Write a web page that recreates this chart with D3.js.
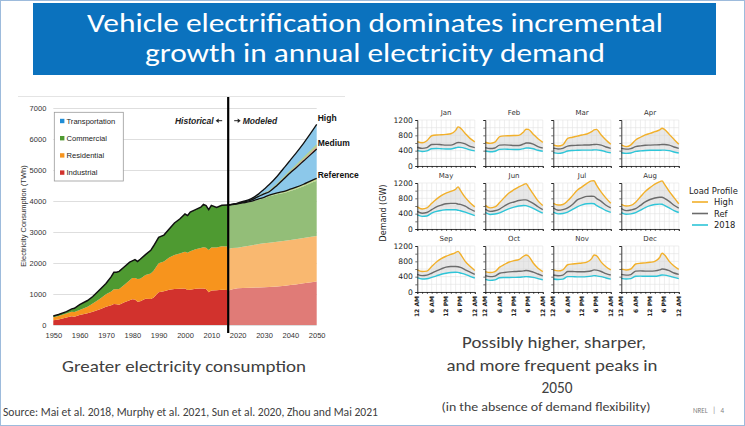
<!DOCTYPE html>
<html><head><meta charset="utf-8">
<script src="https://cdn.jsdelivr.net/npm/d3@7"></script>
<style>body{margin:0;background:#fff}svg{display:block}</style>
</head><body><svg id="c" width="745" height="426"></svg>
<script>
// ---------- text ----------
const titleLines = ["Vehicle electrification dominates incremental", "growth in annual electricity demand"];
const leftCaption = "Greater electricity consumption";
const rightCaption = ["Possibly higher, sharper,", "and more frequent peaks in", "2050"];
const rightNote = "(in the absence of demand flexibility)";
const sourceText = "Source: Mai et al. 2018, Murphy et al. 2021, Sun et al. 2020, Zhou and Mai 2021";
const footerText = "NREL   |   4";

// ---------- left chart data (TWh) ----------
const yTicks = [0,1000,2000,3000,4000,5000,6000,7000];
const xTicks = [1950,1960,1970,1980,1990,2000,2010,2020,2030,2040,2050];
const sectorNames = ["Transportation","Commercial","Residential","Industrial"];
const sectorColors = ["#1F8DD6","#4E9A31","#F7941D","#D2322D"];
const histYears = [1950,1952,1955,1957,1958,1960,1963,1965,1968,1970,1972,1973,1974,1975,1977,1979,1980,1981,1982,1983,1985,1987,1988,1990,1992,1994,1996,1998,2000,2001,2002,2004,2006,2007,2008,2009,2010,2012,2014,2016];
const histIndustrial = [150,180,240,280,270,320,380,430,520,590,640,680,670,650,730,800,830,820,750,770,850,840,880,1060,1090,1140,1160,1170,1180,1130,1140,1170,1180,1180,1160,1060,1110,1120,1140,1130];
const histResidential = [100,110,130,145,150,160,210,260,340,400,440,470,480,515,570,640,685,700,730,720,760,820,860,930,960,1040,1100,1140,1185,1200,1240,1270,1300,1325,1330,1360,1390,1380,1400,1405];
const histCommercial = [40,50,60,95,120,180,200,230,310,350,480,550,550,565,580,590,555,590,570,630,660,750,800,840,850,920,1030,1110,1215,1200,1260,1280,1320,1385,1360,1300,1360,1290,1320,1335];
const modYears = [2016,2018,2020,2022,2025,2028,2030,2032,2035,2038,2040,2042,2045,2048,2050];
const modIndustrial = [1100,1150,1185,1195,1205,1210,1215,1225,1245,1270,1290,1310,1345,1380,1400];
const modResidential = [1340,1330,1310,1330,1360,1400,1420,1430,1440,1445,1450,1455,1460,1465,1470];
const modCommercial = [1430,1400,1405,1400,1405,1430,1450,1495,1530,1555,1585,1615,1670,1745,1785];
const modRefTransport = [0,5,10,15,20,30,35,40,45,50,55,60,65,70,75];
const mediumTotal = [3870,3890,3925,3965,4030,4150,4230,4300,4510,4750,4910,5060,5290,5520,5680];
const highTotal = [3870,3900,3935,3985,4070,4230,4380,4530,4800,5110,5320,5530,5860,6220,6470];
const highExtraResidential = [0,0,0,5,10,15,20,25,30,40,45,50,60,70,75];
const highExtraCommercial = [0,0,0,5,10,15,20,25,30,40,45,50,60,70,75];
const scenarioLabels = ["High","Medium","Reference"];
const splitYear = 2016.4;

// ---------- right chart data (GW) ----------
const months = ["Jan","Feb","Mar","Apr","May","Jun","Jul","Aug","Sep","Oct","Nov","Dec"];
const hours = [0,2,4,6,8,10,12,14,16,17,18,20,22,24];
const hourTicks = [0,6,12,18,24];
const hourTickLabels = ["12 AM","6 AM","12 PM","6 PM","12 AM"];
const demandTicks = [0,400,800,1200];
const profileNames = ["High","Ref","2018"];
const profileColors = ["#F2B02A","#6B6B6B","#2EC5D8"];
const highLoad = [
 [635,605,660,790,810,815,825,840,930,1020,990,850,720,630],
 [620,590,620,765,785,790,795,800,890,960,955,830,710,615],
 [550,520,550,720,750,780,810,835,895,940,955,810,680,565],
 [550,505,550,680,750,810,850,895,940,985,955,825,695,565],
 [577,522,550,669,779,870,934,980,1035,1100,1008,824,687,577],
 [615,550,575,690,825,945,1025,1100,1160,1185,1100,915,735,615],
 [670,625,640,735,870,1010,1100,1190,1255,1260,1150,960,805,670],
 [645,600,615,700,840,980,1080,1170,1230,1255,1170,980,820,660],
 [578,533,545,667,782,871,933,980,1030,1060,990,800,670,560],
 [533,507,530,649,720,782,818,845,933,965,940,756,622,533],
 [578,551,580,711,730,745,756,780,870,965,950,780,660,578],
 [595,575,600,730,750,760,775,800,900,1010,970,800,680,590]];
const refLoad = [
 [490,460,480,560,565,555,545,545,590,615,610,575,510,480],
 [480,455,470,545,550,545,535,535,575,600,600,570,505,470],
 [465,445,460,520,535,540,545,548,555,560,565,545,495,460],
 [460,440,455,505,525,540,545,550,555,560,560,545,495,460],
 [458,412,430,504,577,623,660,669,669,650,641,595,522,458],
 [520,460,475,520,600,670,705,745,760,760,735,670,580,505],
 [550,490,505,550,640,760,810,850,855,850,800,720,620,550],
 [535,480,495,530,615,710,770,810,830,830,800,720,620,545],
 [462,427,440,489,550,604,649,665,667,660,640,580,520,460],
 [427,400,415,489,510,525,533,540,550,560,555,520,470,420],
 [444,425,440,533,535,530,530,535,555,578,570,535,480,444],
 [460,440,455,545,550,545,545,550,575,600,595,555,495,460]];
const load2018 = [
 [400,380,395,450,455,450,445,445,475,490,485,460,420,395],
 [390,370,385,435,440,435,430,430,455,470,470,450,410,385],
 [350,330,345,390,405,410,415,415,415,420,420,405,370,345],
 [345,330,340,380,395,405,410,410,410,415,415,400,365,340],
 [366,330,340,412,458,485,504,504,504,490,476,440,394,348],
 [430,380,390,420,480,530,570,600,615,610,590,540,470,415],
 [440,395,405,440,510,580,630,660,665,660,615,550,480,435],
 [430,385,395,425,490,560,610,640,650,645,615,550,480,430],
 [373,338,345,380,420,462,490,510,516,512,495,460,410,365],
 [329,302,315,373,378,380,382,385,395,400,398,380,350,320],
 [338,325,335,400,400,395,395,400,415,427,420,400,365,335],
 [355,340,350,410,415,410,410,410,430,445,440,415,380,350]];

// ---------- drawing ----------
const svg = d3.select("#c");
const calibri = "Carlito, 'Liberation Sans Narrow', 'Open Sans', sans-serif";
const arial = "'Liberation Sans', Arial, sans-serif";
const dv = "'DejaVu Sans', sans-serif";

svg.append("rect").attr("x",0.5).attr("y",0.5).attr("width",744).attr("height",425)
  .attr("fill","#fff").attr("stroke","#9dbbdc");

// Title box
svg.append("rect").attr("x",33).attr("y",3).attr("width",683).attr("height",72).attr("fill","#0B72BE");
const titleW = [576, 460];
titleLines.forEach((t,i)=>{
  svg.append("text").attr("x",375).attr("y",32+i*30).attr("text-anchor","middle")
    .attr("font-family",calibri).attr("font-size",27).attr("fill","#fff")
    .attr("textLength",titleW[i]).attr("lengthAdjust","spacingAndGlyphs").text(t);
});

// ===== Left chart =====
const xL = d3.scaleLinear().domain([1950,2050]).range([53.3,316.7]);
const yL = d3.scaleLinear().domain([0,7000]).range([325,108]);
const gL = svg.append("g");
gL.append("line").attr("x1",18).attr("x2",345).attr("y1",96.5).attr("y2",96.5).attr("stroke","#e4e4e4");

gL.append("g").attr("transform",`translate(${xL(1950)},0)`)
  .call(d3.axisLeft(yL).tickValues(yTicks).tickSize(-(xL(2050)-xL(1950))).tickPadding(7).tickFormat(d3.format("d")))
  .call(g=>{g.select(".domain").remove();
    g.selectAll("line").attr("stroke","#dedede");
    g.selectAll("text").attr("font-family",arial).attr("font-size",7.5).attr("fill","#333");});
gL.append("g").attr("transform",`translate(0,${yL(0)})`)
  .call(d3.axisBottom(xL).tickValues(xTicks).tickSize(0).tickPadding(8).tickFormat(d3.format("d")))
  .call(g=>{g.select(".domain").remove();
    g.selectAll("text").attr("font-family",arial).attr("font-size",7.5).attr("fill","#333");});

// modeled stack
const modRows = modYears.map((yr,i)=>({year:yr, ind:modIndustrial[i], res:modResidential[i], com:modCommercial[i], rt:modRefTransport[i]}));
const stM = d3.stack().keys(["ind","res","com","rt"])(modRows);
const areaM = d3.area().x(d=>xL(d.data.year)).y0(d=>yL(d[0])).y1(d=>yL(d[1]));
// transportation (blue) from commercial top to High
const comTop = modRows.map(r=>r.ind+r.res+r.com);
const refTot = modRows.map(r=>r.ind+r.res+r.com+r.rt);
gL.append("path").datum(modYears.map((yr,i)=>({year:yr,lo:comTop[i],hi:highTotal[i]})))
  .attr("d",d3.area().x(d=>xL(d.year)).y0(d=>yL(d.lo)).y1(d=>yL(d.hi))).attr("fill","#8CC8EA");
const modCols = ["#E07B77","#F9B870","#93BE78","#C9DB8E"];
stM.forEach((s,i)=>gL.append("path").datum(s).attr("d",areaM).attr("fill",modCols[i]));
// High increments above Medium
const bandA = modYears.map((yr,i)=>({year:yr,lo:mediumTotal[i],hi:mediumTotal[i]+highExtraResidential[i]}));
const bandB = modYears.map((yr,i)=>({year:yr,lo:mediumTotal[i]+highExtraResidential[i],hi:mediumTotal[i]+highExtraResidential[i]+highExtraCommercial[i]}));
const bandArea = d3.area().x(d=>xL(d.year)).y0(d=>yL(d.lo)).y1(d=>yL(d.hi));
gL.append("path").datum(bandA).attr("d",bandArea).attr("fill","#F4A58E");
gL.append("path").datum(bandB).attr("d",bandArea).attr("fill","#B9D38A");

// historical stack
const histRows = histYears.map((yr,i)=>({year:yr, ind:histIndustrial[i], res:histResidential[i], com:histCommercial[i]}));
const stH = d3.stack().keys(["ind","res","com"])(histRows);
const histCols = ["#D2322D","#F7941D","#4E9A31"];
stH.forEach((s,i)=>gL.append("path").datum(s).attr("d",areaM).attr("fill",histCols[i]));
// total lines
const lineL = d3.line().x(d=>xL(d.year)).y(d=>yL(d.v));
gL.append("path").datum(histRows.map(r=>({year:r.year,v:r.ind+r.res+r.com})))
  .attr("d",lineL).attr("fill","none").attr("stroke","#111").attr("stroke-width",1.5);
[highTotal, mediumTotal, refTot].forEach(arr=>{
  gL.append("path").datum(modYears.map((yr,i)=>({year:yr,v:arr[i]})))
    .attr("d",d3.line().x(d=>xL(d.year)).y(d=>yL(d.v)).curve(d3.curveMonotoneX))
    .attr("fill","none").attr("stroke","#111").attr("stroke-width",1.3);
});
// split line
gL.append("line").attr("x1",xL(splitYear)).attr("x2",xL(splitYear)).attr("y1",97).attr("y2",333)
  .attr("stroke","#000").attr("stroke-width",2.2);
const sx = xL(splitYear);
gL.append("text").attr("x",sx-14.5).attr("y",123.5).attr("text-anchor","end").attr("font-family",arial)
  .attr("font-size",8.5).attr("font-weight","bold").attr("font-style","italic").attr("fill","#222").text("Historical");
gL.append("text").attr("x",sx+14.5).attr("y",123.5).attr("font-family",arial)
  .attr("font-size",8.5).attr("font-weight","bold").attr("font-style","italic").attr("fill","#222").text("Modeled");
gL.append("path").attr("d",`M${sx-6},120.7H${sx-10}`).attr("stroke","#222").attr("stroke-width",1);
gL.append("path").attr("d",`M${sx-12.5},120.7l3,-2.2v4.4z`).attr("fill","#222");
gL.append("path").attr("d",`M${sx+6},120.7H${sx+10}`).attr("stroke","#222").attr("stroke-width",1);
gL.append("path").attr("d",`M${sx+12.5},120.7l-3,-2.2v4.4z`).attr("fill","#222");
// scenario labels
const scenEnd = [highTotal[highTotal.length-1], mediumTotal[mediumTotal.length-1], refTot[refTot.length-1]];
const scenDy = [-3, -3, -0.5];
scenarioLabels.forEach((t,i)=>{
  gL.append("text").attr("x",xL(2050)+1).attr("y",yL(scenEnd[i])+scenDy[i]).attr("font-family",arial)
    .attr("font-size",8.5).attr("font-weight","bold").attr("fill","#111").text(t);
});
// y title
gL.append("text").attr("transform","translate(25.5,216) rotate(-90)").attr("text-anchor","middle")
  .attr("font-family",arial).attr("font-size",7.5).attr("fill","#333").text("Electricity Consumption (TWh)");
// legend
const lg = gL.append("g");
lg.append("rect").attr("x",54.3).attr("y",112.3).attr("width",69).attr("height",68.7).attr("fill","#fff").attr("stroke","#9a9a9a").attr("stroke-width",0.8);
sectorNames.forEach((n,i)=>{
  const yy = 121 + i*17.2;
  lg.append("rect").attr("x",60).attr("y",yy-2.2).attr("width",4.4).attr("height",4.4).attr("fill",sectorColors[i]);
  lg.append("text").attr("x",66.5).attr("y",yy+2.8).attr("font-family",arial).attr("font-size",7.6).attr("fill","#222").text(n);
});

// ===== Right small multiples =====
const colX0 = 417.3, colStep = 68, pw = 57.5, rowY0 = 120, rowStep = 63, ph = 46;
const gR = svg.append("g").attr("font-family",dv);
months.forEach((m,i)=>{
  const c = i%4, r = Math.floor(i/4);
  const x0 = colX0 + c*colStep, yTop = rowY0 + r*rowStep;
  const x = d3.scaleLinear().domain([0,24]).range([x0, x0+pw]);
  const y = d3.scaleLinear().domain([0,1200]).range([yTop+ph, yTop]);
  const g = gR.append("g");
  // grid
  g.selectAll(".gh").data(d3.range(0,1201,200)).join("line")
    .attr("x1",x(0)).attr("x2",x(24)).attr("y1",d=>y(d)).attr("y2",d=>y(d)).attr("stroke","#e3e3e3").attr("stroke-width",0.6);
  g.selectAll(".gv").data(d3.range(0,25,2)).join("line")
    .attr("x1",d=>x(d)).attr("x2",d=>x(d)).attr("y1",y(0)).attr("y2",y(1200)).attr("stroke","#e3e3e3").attr("stroke-width",0.6);
  const pts = hours.map((h,k)=>({h, hi:highLoad[i][k], rf:refLoad[i][k], b:load2018[i][k]}));
  g.append("path").datum(pts).attr("d",d3.area().x(d=>x(d.h)).y0(d=>y(d.b)).y1(d=>y(d.hi)).curve(d3.curveMonotoneX))
    .attr("fill","#d6d6d6").attr("opacity",0.55);
  ["hi","rf","b"].forEach((k,j)=>{
    g.append("path").datum(pts).attr("d",d3.line().x(d=>x(d.h)).y(d=>y(d[k])).curve(d3.curveMonotoneX))
      .attr("fill","none").attr("stroke",profileColors[j]).attr("stroke-width",1.4);
  });
  // axes
  const ax = g.append("g").attr("transform",`translate(0,${y(0)})`)
    .call(d3.axisBottom(x).tickValues(d3.range(0,25,2)).tickSize(2).tickFormat(""));
  const ay = g.append("g").attr("transform",`translate(${x(0)},0)`)
    .call(d3.axisLeft(y).tickValues(d3.range(0,1201,200)).tickSize(2).tickFormat(""));
  [ax,ay].forEach(a=>{a.select(".domain").attr("stroke","#111").attr("stroke-width",0.8);
    a.selectAll("line").attr("stroke","#111").attr("stroke-width",0.6);});
  if (c===0) {
    g.selectAll(".yl").data(demandTicks).join("text").attr("x",x(0)-4.5).attr("y",d=>y(d)+2.7)
      .attr("text-anchor","end").attr("font-size",7.6).attr("fill","#222").text(d=>d);
  }
  if (r===2) {
    g.selectAll(".xl").data(hourTicks).join("text")
      .attr("transform",(d,k)=>`translate(${x(d)+2},${y(0)+4}) rotate(-90)`)
      .attr("text-anchor","end").attr("font-size",6).attr("font-weight","bold").attr("fill","#222")
      .text((d,k)=>hourTickLabels[k]);
  }
  g.append("text").attr("x",(x(0)+x(24))/2).attr("y",yTop-5.5).attr("text-anchor","middle")
    .attr("font-size",7).attr("fill","#333").text(m);
});
gR.append("text").attr("transform","translate(386,213) rotate(-90)").attr("text-anchor","middle")
  .attr("font-size",8).attr("fill","#222").text("Demand (GW)");
// legend
gR.append("text").attr("x",689).attr("y",194).attr("font-size",8.4).attr("fill","#222").text("Load Profile");
profileNames.forEach((n,i)=>{
  const yy = 202 + i*11.5;
  gR.append("line").attr("x1",692).attr("x2",708).attr("y1",yy).attr("y2",yy).attr("stroke",profileColors[i]).attr("stroke-width",1.6);
  gR.append("text").attr("x",714).attr("y",yy+3).attr("font-size",8.4).attr("fill","#222").text(n);
});

// ===== Captions =====
svg.append("text").attr("x",184).attr("y",372).attr("text-anchor","middle").attr("font-family",calibri)
  .attr("font-size",17).attr("fill","#404040").attr("textLength",244).attr("lengthAdjust","spacingAndGlyphs").text(leftCaption);
const rcW = [184, 211, 31];
const rcX = [554, 552, 557];
rightCaption.forEach((t,i)=>{
  svg.append("text").attr("x",rcX[i]).attr("y",348+i*22.5).attr("text-anchor","middle").attr("font-family",calibri)
    .attr("font-size",17).attr("fill","#404040").attr("textLength",rcW[i]).attr("lengthAdjust","spacingAndGlyphs").text(t);
});
svg.append("text").attr("x",546).attr("y",411).attr("text-anchor","middle").attr("font-family",calibri)
  .attr("font-size",12.5).attr("fill","#404040").attr("textLength",209).attr("lengthAdjust","spacingAndGlyphs").text(rightNote);
svg.append("text").attr("x",3).attr("y",416).attr("font-family",calibri)
  .attr("font-size",11.5).attr("fill","#404040").attr("textLength",375).attr("lengthAdjust","spacingAndGlyphs").text(sourceText);
svg.append("text").attr("x",693).attr("y",413).attr("font-family",calibri).attr("xml:space","preserve")
  .attr("font-size",7).attr("fill","#7f7f7f").text(footerText);
</script></body></html>
